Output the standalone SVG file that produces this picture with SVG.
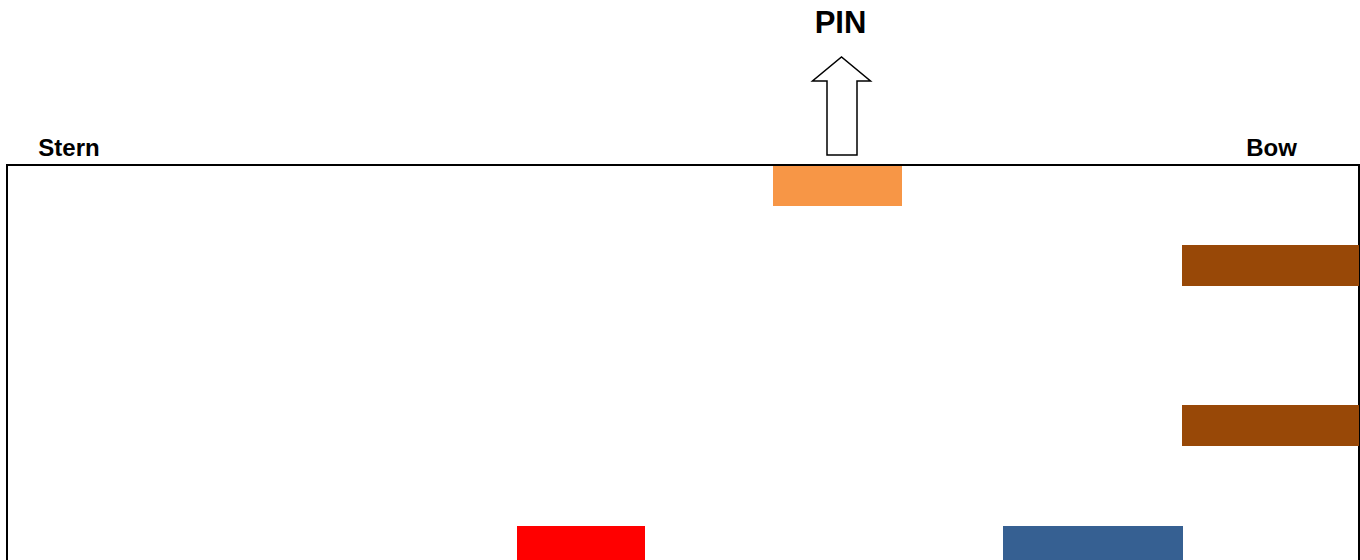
<svg xmlns="http://www.w3.org/2000/svg" width="1360" height="560" viewBox="0 0 1360 560">
<style>
  .lbl { font-family: "Liberation Sans", Arial, sans-serif; font-weight: bold; fill: #000; }
  .brown { fill: #984807; }
</style>
<rect width="1360" height="560" fill="#fff"/>
<g id="hull">
  <rect x="7" y="165" width="1352" height="420" fill="none" stroke="#000" stroke-width="2"/>
</g>
<g id="labels">
  <text class="lbl" x="69" y="156" font-size="24" text-anchor="middle">Stern</text>
  <text class="lbl" x="1271.5" y="156" font-size="24" text-anchor="middle">Bow</text>
  <text class="lbl" x="840.5" y="33" font-size="31" text-anchor="middle">PIN</text>
</g>
<g id="pin-arrow">
  <path d="M827,155 L857,155 L857,81 L870.5,81 L841.5,57 L812.5,81 L827,81 Z" fill="#fff" stroke="#000" stroke-width="1.5"/>
</g>
<g id="orange-block"><rect x="773" y="166" width="129" height="40" fill="#F79646"/></g>
<g id="brown-upper"><rect class="brown" x="1182" y="245" width="177" height="41"/></g>
<g id="brown-lower"><rect class="brown" x="1182" y="405" width="177" height="41"/></g>
<g id="red-block"><rect x="517" y="526" width="128" height="40" fill="#FF0000"/></g>
<g id="blue-block"><rect x="1003" y="526" width="180" height="40" fill="#366092"/></g>
</svg>
